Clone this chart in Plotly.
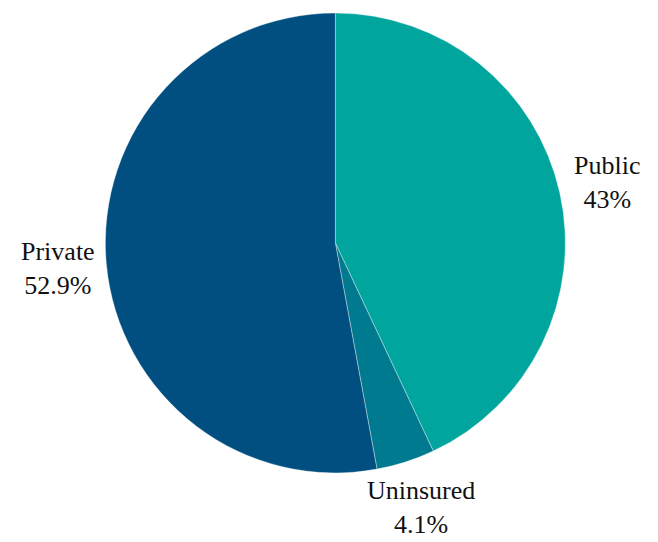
import math
import plotly.graph_objects as go

labels = ["Public", "Uninsured", "Private"]
values = [43.0, 4.1, 52.9]
value_text = ["43%", "4.1%", "52.9%"]
colors = ["#00A59D", "#007A8F", "#004F80"]

W, H = 658, 542
dom_x = [0.148, 0.847]
dom_y = [0.142, 0.991]
font = dict(family="Liberation Serif, Times New Roman, serif", size=26, color="#111111")

fig = go.Figure(go.Pie(
    labels=labels,
    values=values,
    textinfo="none",
    sort=False,
    direction="clockwise",
    rotation=0,
    marker=dict(colors=colors, line=dict(color="rgba(255,255,255,0.6)", width=0.6)),
    hoverinfo="skip",
    domain=dict(x=dom_x, y=dom_y),
))

# label positions derived from slice mid-angles
cx = (dom_x[0] + dom_x[1]) / 2
cy = (dom_y[0] + dom_y[1]) / 2
r_px = min((dom_x[1] - dom_x[0]) * W, (dom_y[1] - dom_y[0]) * H) / 2
total = sum(values)
cum = 0.0
for lab, v, vt in zip(labels, values, value_text):
    mid = (cum + v / 2) / total * 2 * math.pi
    cum += v
    d = 1.21 * r_px
    fig.add_annotation(
        x=cx + d * math.sin(mid) / W,
        y=cy + d * math.cos(mid) / H,
        xref="paper", yref="paper",
        text=f"{lab}<br>{vt}",
        showarrow=False,
        xanchor="center", yanchor="middle",
        align="center",
        font=font,
    )

fig.update_layout(
    width=W, height=H,
    margin=dict(l=0, r=0, t=0, b=0),
    showlegend=False,
    paper_bgcolor="white",
    plot_bgcolor="white",
)
fig.write_html("out.html")
